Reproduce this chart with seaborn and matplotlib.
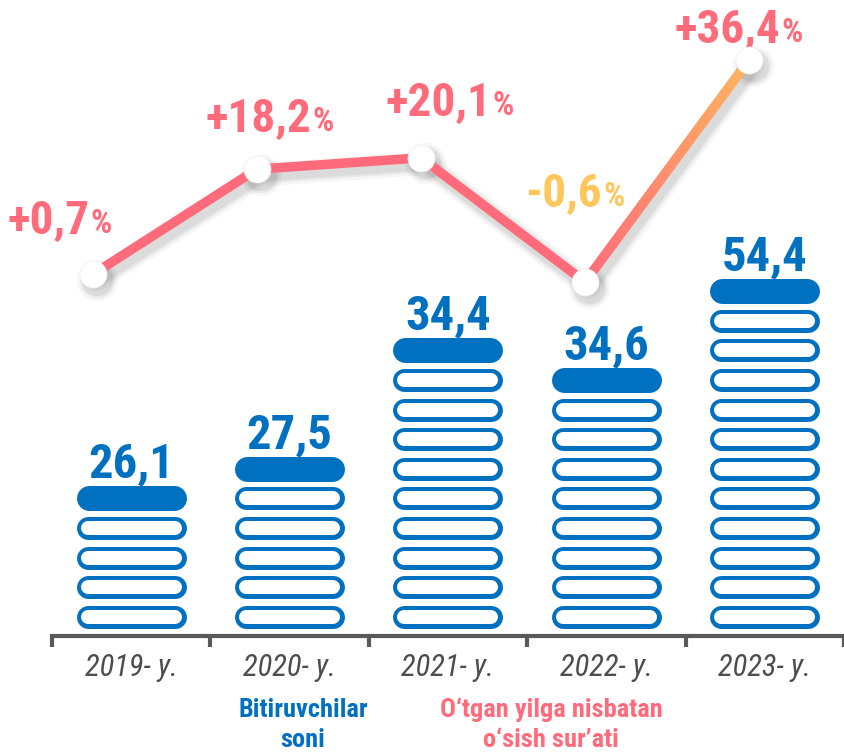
import numpy as np
import pandas as pd
import matplotlib
matplotlib.use("Agg")
import matplotlib.pyplot as plt
import seaborn as sns
from matplotlib import font_manager as fm
from matplotlib.collections import LineCollection
from matplotlib.transforms import ScaledTranslation
from matplotlib.colors import to_rgb

# ---------------- data ----------------
years = ["2019- y.", "2020- y.", "2021- y.", "2022- y.", "2023- y."]
graduates = [26.1, 27.5, 34.4, 34.6, 54.4]          # Bitiruvchilar soni
growth = [0.7, 18.2, 20.1, -0.6, 36.4]              # O'tgan yilga nisbatan o'sish sur'ati, %
rings = [4, 5, 9, 8, 11]                            # pictogram rings under each cap
legend_left = "Bitiruvchilar\nsoni"
legend_right = "O\u2018tgan yilga nisbatan\no\u2018sish sur\u2019ati"

# ---------------- style ----------------
BLUE = "#0070C0"
PINK = "#FF6B7A"
ORANGE = "#FFB45E"
YELLOW = "#FFC65C"
GRAY = "#595959"

sns.set_theme(style="white")
avail = {f.name for f in fm.fontManager.ttflist}
COND = next((f for f in ["Roboto Condensed", "Liberation Sans Narrow", "Roboto"] if f in avail), "DejaVu Sans")
plt.rcParams["font.family"] = [COND, "DejaVu Sans"]

W, H, DPI = 845, 754, 100
fig = plt.figure(figsize=(W / DPI, H / DPI), dpi=DPI)
fig.patch.set_facecolor("white")

base_px = 636
left_px, right_px = 52, 844
pos = [left_px / W, (H - base_px) / H, (right_px - left_px) / W, base_px / H]

# ---------------- bars (ring pictograms) ----------------
ax = fig.add_axes(pos)
pitch = 29.6
ax.set_xlim(-0.5, 4.5)
ax.set_ylim(0, base_px / pitch)

px_per_x = (right_px - left_px) / 5.0
pt = 72.0 / DPI
ring_w, ring_h, ring_t = 110, 23, 4.5
cap_h = 25

df = pd.DataFrame({"year": years, "graduates": graduates, "rings": rings})
df["i"] = np.arange(len(df))

ring_rows = [(r.i, k + 0.65) for r in df.itertuples() for k in range(r.rings)]
rx = np.array([a for a, _ in ring_rows])
ry = np.array([b for _, b in ring_rows])
half = (ring_w - ring_h) / 2 / px_per_x
outer = ax.hlines(ry, rx - half, rx + half, colors=BLUE, lw=ring_h * pt, zorder=2)
inner = ax.hlines(ry, rx - half, rx + half, colors="white", lw=(ring_h - 2 * ring_t) * pt, zorder=3)
for lc in (outer, inner):
    lc.set_capstyle("round")

cap_y = df["rings"].to_numpy() + 0.65
half_c = (ring_w - cap_h) / 2 / px_per_x
caps = ax.hlines(cap_y, df["i"] - half_c, df["i"] + half_c, colors=BLUE, lw=cap_h * pt, zorder=3)
caps.set_capstyle("round")

for r, cy in zip(df.itertuples(), cap_y):
    ax.annotate(f"{r.graduates:.1f}".replace(".", ","), xy=(r.i, cy),
                xytext=(0, (cap_h / 2 + 8) * pt), textcoords="offset points",
                ha="center", va="baseline", fontsize=35, fontweight="bold",
                color=BLUE, family=[COND, "DejaVu Sans"])

# axis styling
for s in ["left", "top", "right"]:
    ax.spines[s].set_visible(False)
ax.spines["bottom"].set_color(GRAY)
ax.spines["bottom"].set_linewidth(3)
ax.set_yticks([])
ax.set_xticks(range(5))
ax.set_xticklabels(years, fontsize=22, style="italic", color="#4D4D4D")
ax.set_xticks(np.arange(-0.5, 5, 1), minor=True)
ax.tick_params(axis="x", which="major", bottom=True, length=0, pad=12)
ax.tick_params(axis="x", which="minor", bottom=True, length=8, width=3, color=GRAY, direction="out")
ax.patch.set_visible(False)

# ---------------- growth line ----------------
ax2 = fig.add_axes(pos)
ax2.set_xlim(-0.25, -0.25 + (right_px - left_px) / 164.0)
k_px = 6.0
top_px = 60
ymin = growth[-1] - (base_px - top_px) / k_px
ax2.set_ylim(ymin, ymin + base_px / k_px)
ax2.axis("off")
ax2.patch.set_visible(False)

gdf = pd.DataFrame({"x": np.arange(len(growth)), "growth": growth})
lw = 9.5 * pt

# soft shadow
sh = ax2.transData + ScaledTranslation(3 / 72, -4 / 72, fig.dpi_scale_trans)
for extra, a in [(10, 0.035), (6, 0.05), (3, 0.06)]:
    ax2.plot(gdf["x"], gdf["growth"], color="black", alpha=a, lw=lw + extra,
             solid_capstyle="round", solid_joinstyle="round", transform=sh, zorder=1)
    ax2.scatter(gdf["x"], gdf["growth"], s=(27 * pt + extra) ** 2, color="black",
                alpha=a, lw=0, transform=sh, zorder=1)

sns.lineplot(data=gdf.iloc[:4], x="x", y="growth", ax=ax2, color=PINK, lw=lw,
             solid_capstyle="round", solid_joinstyle="round", zorder=4, legend=False)

# gradient last segment
t = np.linspace(0, 1, 60)
x0, x1 = gdf["x"].iloc[3], gdf["x"].iloc[4]
y0, y1 = growth[3], growth[4]
xs = x0 + (x1 - x0) * t
ys = y0 + (y1 - y0) * t
segs = np.stack([np.column_stack([xs[:-1], ys[:-1]]), np.column_stack([xs[1:], ys[1:]])], axis=1)
c0, c1 = np.array(to_rgb(PINK)), np.array(to_rgb(ORANGE))
tm = (t[:-1] + t[1:]) / 2
cols = c0[None, :] * (1 - tm[:, None]) + c1[None, :] * tm[:, None]
lcg = LineCollection(segs, colors=cols, linewidths=lw, capstyle="round", zorder=4)
ax2.add_collection(lcg)

sns.scatterplot(data=gdf, x="x", y="growth", ax=ax2, color="white", s=(27 * pt) ** 2,
                edgecolor="#F0F0F0", linewidth=0.5, zorder=6, legend=False)
ax2.set_xlabel("")
ax2.set_ylabel("")

# growth labels (big number + small %)
label_off = [(-33, 41), (13, 38), (29, 43), (-10, 76), (-10, 18)]  # pixels (dx, up)
pairs = []
for i, g in enumerate(growth):
    col = YELLOW if g < 0 else PINK
    s = f"{g:+.1f}".replace(".", ",")
    big = ax2.annotate(s, xy=(i, g), xytext=(0, 0), textcoords="offset points",
                       ha="left", va="baseline", fontsize=34, fontweight="bold", color=col, zorder=5)
    pc = ax2.annotate("%", xy=(i, g), xytext=(0, 0), textcoords="offset points",
                      ha="left", va="baseline", fontsize=24, fontweight="bold", color=col, zorder=5)
    pairs.append((big, pc))

fig.canvas.draw()
r = fig.canvas.get_renderer()
for (big, pc), (dx, up) in zip(pairs, label_off):
    wb = big.get_window_extent(r).width
    wp = pc.get_window_extent(r).width
    total = wb + wp + 1
    left = dx - total / 2
    big.xyann = (left * pt, up * pt)
    pc.xyann = ((left + wb + 1) * pt, up * pt)

# ---------------- bottom legend texts ----------------
fig.text(303 / W, 1 - 725 / H, legend_left, ha="center", va="center", fontsize=19,
         fontweight="bold", color=BLUE, linespacing=1.3)
fig.text(551 / W, 1 - 725 / H, legend_right, ha="center", va="center", fontsize=19,
         fontweight="bold", color=PINK, linespacing=1.3)

fig.savefig("out.png", dpi=DPI, facecolor="white")
